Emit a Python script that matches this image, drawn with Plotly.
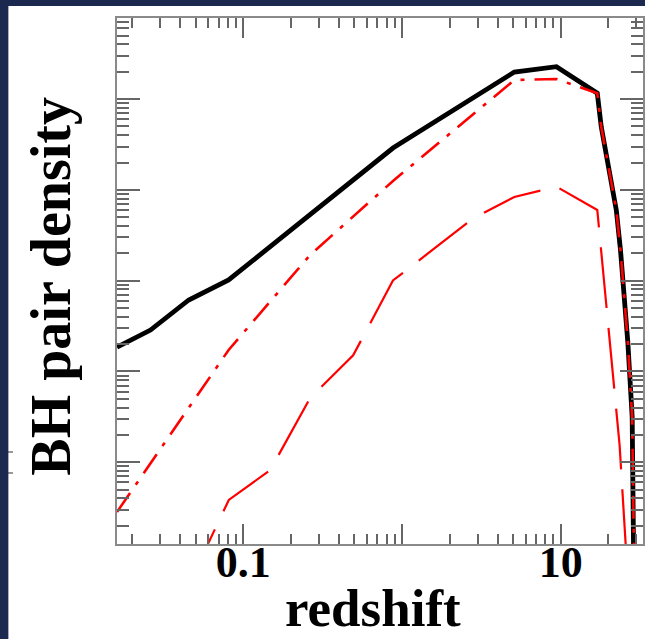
import plotly.graph_objects as go

# ---- data (y in arbitrary units) ----
total_z = [0.016, 0.026, 0.0453, 0.0808, 0.877, 5.1, 9.4, 17.0, 18.0, 22.4, 23.8, 26.5, 28.2, 28.9, 29.0]
total_n = [18.5, 28.6, 61.3, 101.8, 2892, 19870, 22750, 11590, 4966, 600.8, 217.8, 20.6, 3.155, 0.129, 0.0304]

dd_z = [0.016, 0.0808, 0.2636, 0.877, 5.1, 9.4, 17.0, 18.0, 22.4, 23.8, 26.5, 28.2, 28.9, 29.0]
dd_n = [0.284, 17.25, 191.9, 1253, 16230, 16640, 11590, 4966, 600.8, 217.8, 20.6, 3.155, 0.129, 0.0304]

ld_z = [0.0453, 0.081, 0.148, 0.2636, 0.492, 0.877, 2.81, 5.1, 9.4, 17.0, 23.5, 26.5]
ld_n = [0.0451, 0.3845, 0.823, 5.11, 15.04, 100.5, 486.6, 835.5, 1084, 600, 1.55, 0.05]

x_tickvals = [0.1, 1, 10]
x_ticktext = ["0.1", "", "10"]
x_minor = [m * d for d in [0.01, 0.1, 1, 10] for m in range(2, 10)]
y_tickvals = [0.1, 1, 10, 100, 1000, 10000]
y_minor = [m * d for d in [0.1, 1, 10, 100, 1000, 10000] for m in range(2, 10)]

x_title = "redshift"
y_title = "BH pair density"

NAVY = "#1b2950"
RED = "#ff0000"
TICK = "#666666"

fig = go.Figure()
fig.add_trace(go.Scatter(x=total_z, y=total_n, mode="lines",
                         line=dict(color="black", width=4.8), showlegend=False))
fig.add_trace(go.Scatter(x=dd_z, y=dd_n, mode="lines",
                         line=dict(color=RED, width=2.6, dash="23px,10px,4px,10px"), showlegend=False))
fig.add_trace(go.Scatter(x=ld_z, y=ld_n, mode="lines",
                         line=dict(color=RED, width=2.2, dash="61px,20px"), showlegend=False))

fig.update_xaxes(type="log", range=[-1.796, 1.5185],
                 tickmode="array", tickvals=x_tickvals, ticktext=x_ticktext,
                 ticks="inside", ticklen=20, tickwidth=1.5, tickcolor=TICK,
                 ticklabelstandoff=-22,
                 minor=dict(tickmode="array", tickvals=x_minor, ticks="inside",
                            ticklen=10, tickwidth=1.5, tickcolor=TICK, showgrid=False),
                 showline=True, linecolor="#8a8a8a", linewidth=1.5, mirror="ticks",
                 showgrid=False, zeroline=False,
                 tickfont=dict(family="Liberation Serif", size=44, color="black", weight="bold"))
fig.update_yaxes(type="log", range=[-0.900, 4.893],
                 tickmode="array", tickvals=y_tickvals, showticklabels=False,
                 ticks="inside", ticklen=23, tickwidth=1.5, tickcolor=TICK,
                 minor=dict(tickmode="array", tickvals=y_minor, ticks="inside",
                            ticklen=12, tickwidth=1.5, tickcolor=TICK, showgrid=False),
                 showline=True, linecolor="#8a8a8a", linewidth=1.5, mirror="ticks",
                 showgrid=False, zeroline=False)

fig.update_layout(
    width=645, height=639,
    margin=dict(l=117, r=2, t=18, b=95, autoexpand=False),
    paper_bgcolor=NAVY, plot_bgcolor="white",
    shapes=[
        dict(type="rect", xref="paper", yref="paper",
             x0=-0.2065, x1=1.02, y0=-0.25, y1=1.0228,
             fillcolor="white", line=dict(width=0), layer="below"),
        dict(type="line", xref="paper", yref="paper", x0=-0.2072, x1=-0.1977,
             y0=0.1749, y1=0.1749, line=dict(color="#333333", width=1)),
        dict(type="line", xref="paper", yref="paper", x0=-0.2072, x1=-0.1977,
             y0=0.135, y1=0.135, line=dict(color="#333333", width=1)),
    ],
    annotations=[
        dict(text=x_title, xref="paper", yref="paper", x=0.487, y=-0.122,
             xanchor="center", yanchor="middle", showarrow=False,
             font=dict(family="Liberation Serif", size=53, color="black", weight="bold")),
        dict(text=y_title, xref="paper", yref="paper", x=-0.127, y=0.4895,
             xanchor="center", yanchor="middle", showarrow=False, textangle=-90,
             font=dict(family="Liberation Serif", size=56, color="black", weight="bold")),
    ],
)

page_js = ("document.documentElement.style.margin='0';"
           "document.documentElement.style.padding='0';"
           "document.documentElement.style.overflow='hidden';"
           "document.body.style.margin='0';"
           "document.body.style.padding='0';"
           "document.body.style.overflow='hidden';"
           "document.body.style.background='" + NAVY + "';")

fig.write_html("out.html", post_script=page_js, config={"displayModeBar": False})
